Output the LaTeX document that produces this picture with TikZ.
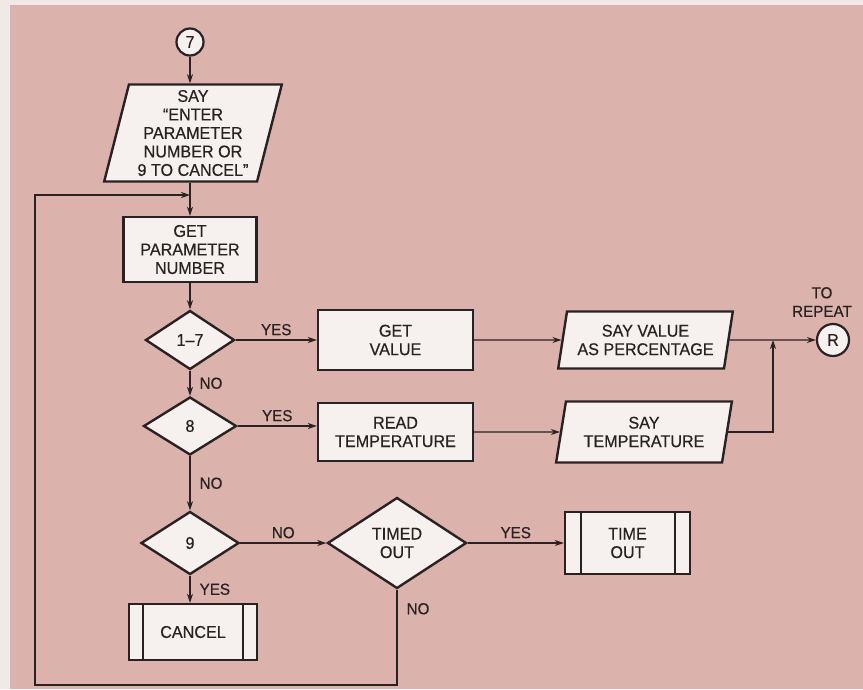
\documentclass[tikz,border=0pt]{standalone}
\usepackage{fontspec}
\setmainfont{Liberation Sans}[FakeStretch=0.95,FakeBold=0.5]
\usetikzlibrary{shapes.geometric,arrows.meta}
\definecolor{bgpink}{HTML}{DBB2AC}
\definecolor{marginc}{HTML}{F1E9E7}
\definecolor{boxfill}{HTML}{F6F1EF}
\definecolor{ink}{HTML}{2A2222}
\begin{document}
\begin{tikzpicture}[x=1pt,y=-1pt,
  font=\fontsize{17}{18.5}\selectfont,
  every node/.style={text=ink},
  proc/.style={draw=ink, line width=2.4pt, fill=boxfill, rectangle, align=center, inner sep=0pt},
  iobox/.style={draw=ink, line width=2.4pt, fill=boxfill, trapezium, trapezium left angle=76, trapezium right angle=104, trapezium stretches=true, align=center, inner sep=0pt},
  decision/.style={draw=ink, line width=2.4pt, fill=boxfill, diamond, align=center, inner sep=0pt},
  conn/.style={draw=ink, line width=2.2pt, fill=boxfill, circle, inner sep=0pt, minimum size=27pt},
  flow/.style={draw=ink, line width=1.3pt, -{Stealth[length=9pt,width=6pt]}},
  bar/.style={draw=ink, line width=2pt},
  lbl/.style={font=\fontsize{16}{18}\selectfont, inner sep=1pt}
]
\fill[marginc] (0,0) rectangle (863,689);
\fill[bgpink] (10,5) rectangle (863,689);
\useasboundingbox (0,0) rectangle (863,689);

% spine
\node[conn] (c7) at (190,42) {7};
\node[iobox, minimum width=178pt, minimum height=97pt] (say) at (193,133) {SAY\\“ENTER\\PARAMETER\\NUMBER OR\\9 TO CANCEL”};
\node[proc, minimum width=133pt, minimum height=65pt] (gpn) at (190,249.5) {GET\\PARAMETER\\NUMBER};
\node[decision, minimum width=89pt, minimum height=59pt] (d17) at (190,340) {1–7};
\node[decision, minimum width=93pt, minimum height=58pt] (d8) at (190,426) {8};
\node[decision, minimum width=98pt, minimum height=63pt] (d9) at (190,543) {9};
\node[proc, minimum width=128pt, minimum height=56pt] (cancel) at (193,632) {CANCEL};
\draw[bar] ([xshift=15pt]cancel.north west) -- ([xshift=15pt]cancel.south west);
\draw[bar] ([xshift=-15pt]cancel.north east) -- ([xshift=-15pt]cancel.south east);

% right branches
\node[proc, minimum width=155pt, minimum height=60pt] (gv) at (395.5,340) {GET\\VALUE};
\node[proc, minimum width=155pt, minimum height=58pt] (rt) at (395.5,432) {READ\\TEMPERATURE};
\node[iobox, minimum width=175pt, minimum height=57pt] (sv) at (645.5,340) {SAY VALUE\\AS PERCENTAGE};
\node[iobox, minimum width=176pt, minimum height=61pt] (st) at (644,432) {SAY\\TEMPERATURE};
\node[conn, minimum size=32pt] (r) at (833,340) {R};
\node[align=center, font=\fontsize{16}{18.5}\selectfont] (torep) at (822,302) {TO\\REPEAT};
\node[decision, minimum width=139pt, minimum height=91pt] (to) at (397,543) {TIMED\\OUT};
\node[proc, minimum width=125pt, minimum height=62pt] (tout) at (627.5,543) {TIME\\OUT};
\draw[bar] ([xshift=17pt]tout.north west) -- ([xshift=17pt]tout.south west);
\draw[bar] ([xshift=-16pt]tout.north east) -- ([xshift=-16pt]tout.south east);

\coordinate (jn) at (773,340);
\coordinate (bl) at (35,685);
\coordinate (tl) at (35,195);

% connectors
\draw[flow] (c7.south) -- (c7.south |- say.north);
\draw[flow] (c7.south |- say.south) -- (gpn.north);
\draw[flow] (gpn) -- (d17);
\draw[flow] (d17) -- node[lbl, right=8pt] {NO} (d8);
\draw[flow] (d8) -- node[lbl, right=8pt] {NO} (d9);
\draw[flow] (d9.south) -- node[lbl, right=8pt] {YES} (d9.south |- cancel.north);
\draw[flow] (d17) -- node[lbl, above=3pt] {YES} (gv);
\draw[flow] (d8.east) -- node[lbl, above=3pt] {YES} (d8.east -| rt.west);
\draw[flow] (gv) -- (sv);
\draw[flow] (rt) -- (st);
\draw[flow] (sv.east) -- (r.west);
\draw[flow] (st.east) -| (jn);
\draw[flow] (d9) -- node[lbl, above=3pt] {NO} (to);
\draw[flow] (to) -- node[lbl, above=3pt] {YES} (tout);
\draw[flow] (to.south) -- node[lbl, right=8pt, pos=0.2] {NO} (to.south |- bl) -- (bl) -- (tl) -- (tl -| gpn.north);
\end{tikzpicture}
\end{document}
